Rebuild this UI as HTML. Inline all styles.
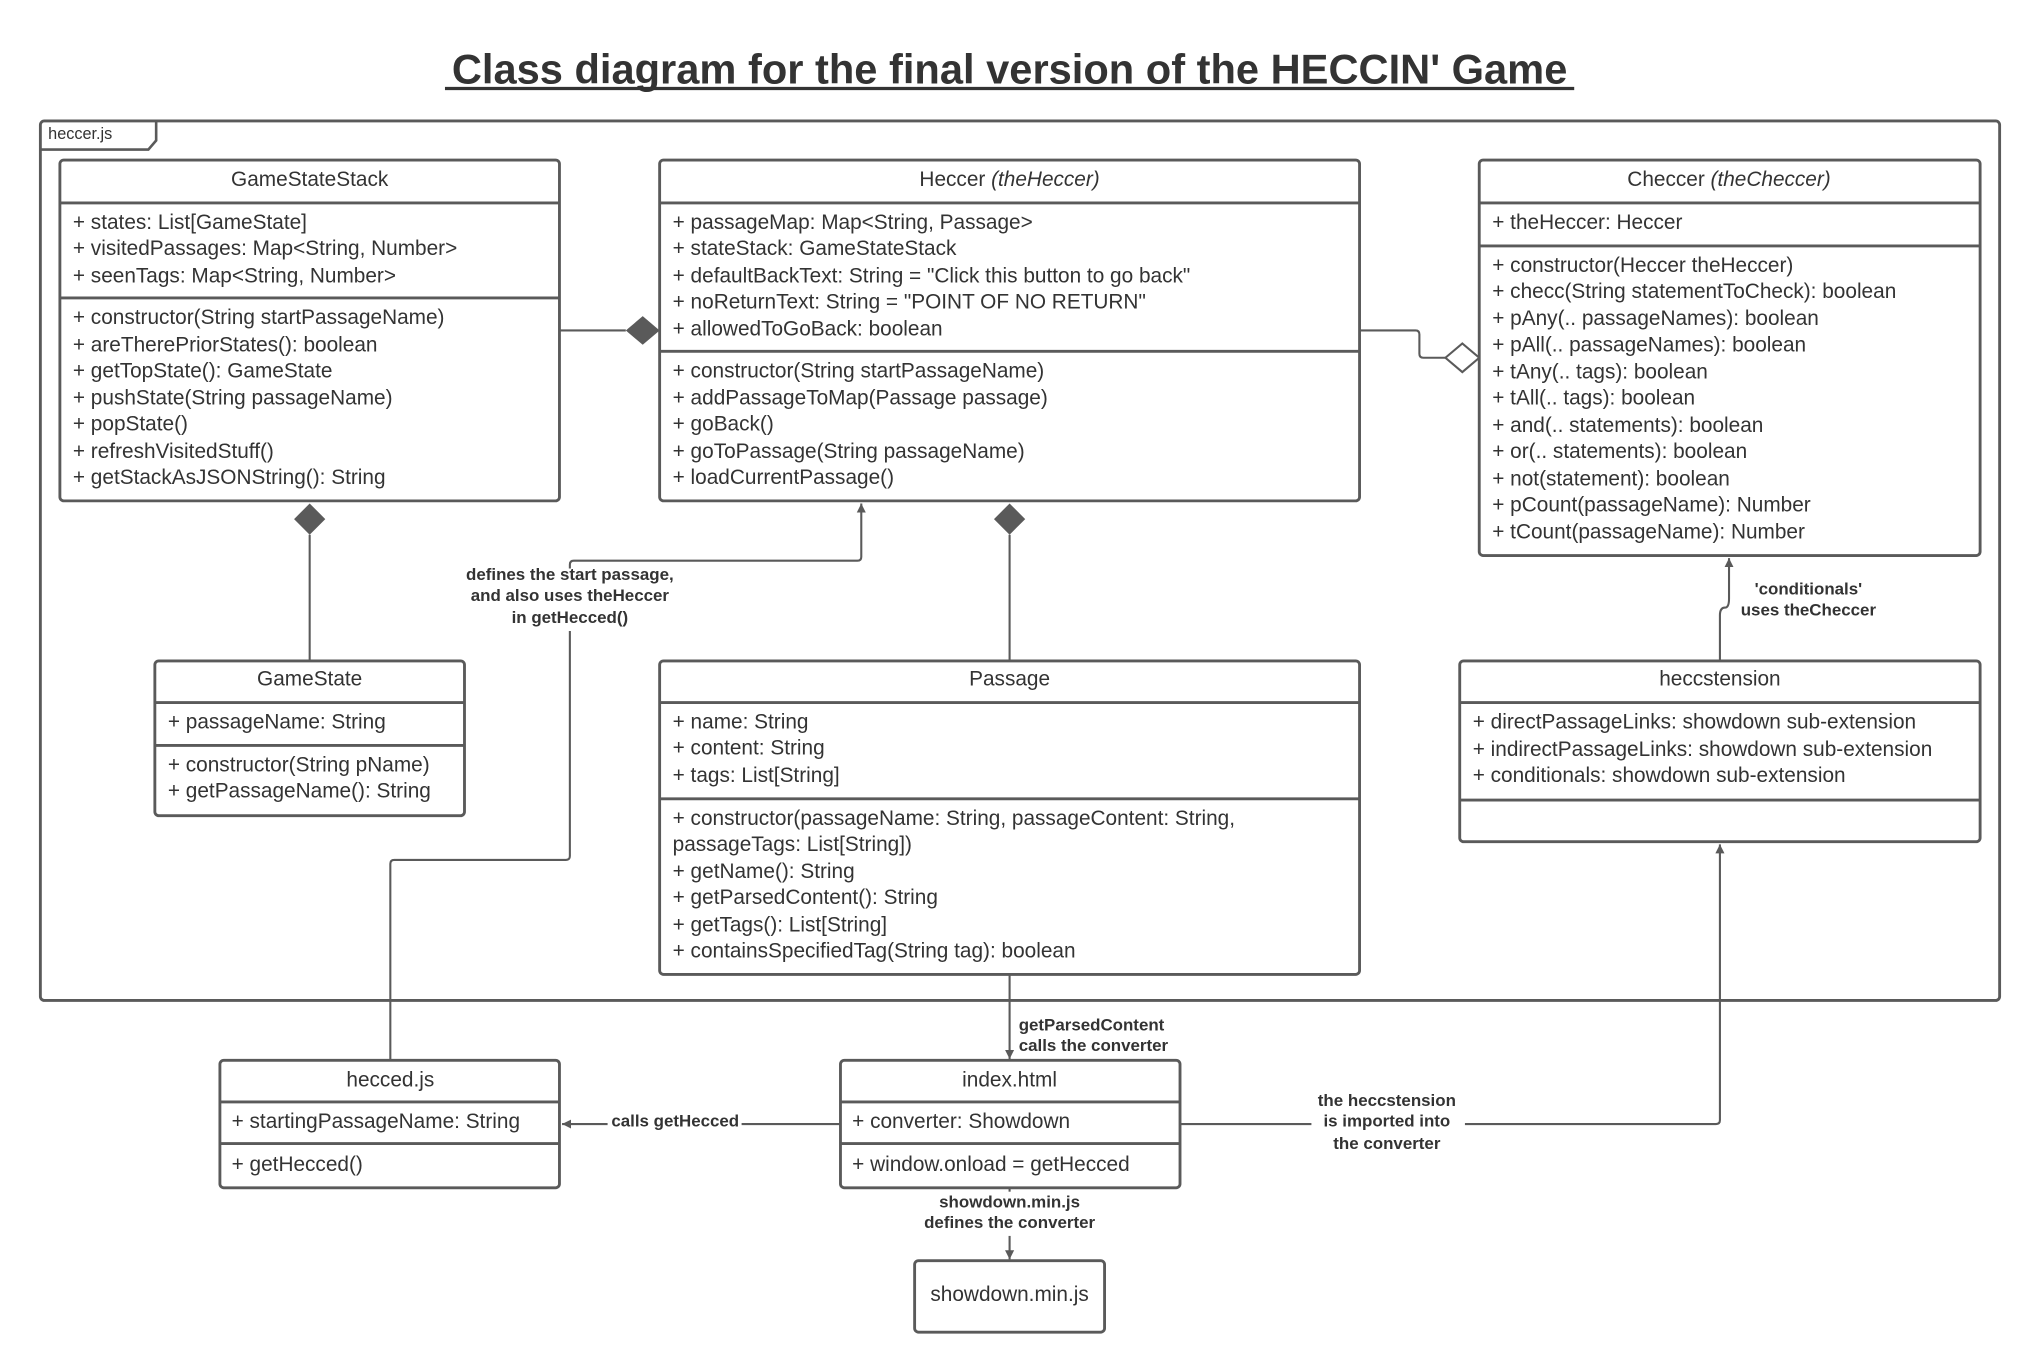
<!DOCTYPE html>
<html><head><meta charset="utf-8"><style>
html,body{margin:0;padding:0;background:#fff;}
svg{display:block;}
text{font-family:"Liberation Sans",Arial,sans-serif;fill:#333;}
.t{font-size:16px;}
.b{font-size:13px;font-weight:bold;}
.box{fill:#fff;stroke:#5a5a5a;stroke-width:2.2;}
.dv{stroke:#5a5a5a;stroke-width:2.2;}
.ln{fill:none;stroke:#5a5a5a;stroke-width:1.6;}
</style></head><body>
<svg width="2040" height="1372" viewBox="0 0 1568 1054.6" xmlns="http://www.w3.org/2000/svg">
<defs><marker id="ar" viewBox="0 0 10 10" refX="10" refY="5" markerWidth="7" markerHeight="10" orient="auto" markerUnits="userSpaceOnUse"><path d="M0,0 L10,5 L0,10 z" fill="#5a5a5a"/></marker></defs>
<text x="776" y="64" text-anchor="middle" style="font-size:32px;font-weight:bold;">Class diagram for the final version of the HECCIN' Game</text>
<line x1="342" y1="68" x2="1210" y2="68" stroke="#333" stroke-width="2.5"/>

<rect x="31" y="93" width="1506" height="676" rx="3" fill="none" stroke="#5a5a5a" stroke-width="2.2"/>
<path d="M31,115 L114,115 L120,108 L120,93" fill="none" stroke="#5a5a5a" stroke-width="2"/>
<text x="37" y="107" style="font-size:12.5px">heccer.js</text>

<!-- connectors -->
<line class="ln" x1="430" y1="254" x2="481" y2="254"/>
<path d="M481,254 L494,243 L507,254 L494,265 z" fill="#5a5a5a"/>
<path d="M238,387 L250,399 L238,411 L226,399 z" fill="#5a5a5a"/>
<line class="ln" x1="238" y1="411" x2="238" y2="508"/>
<path d="M776,387 L788,399 L776,411 L764,399 z" fill="#5a5a5a"/>
<line class="ln" x1="776" y1="411" x2="776" y2="508"/>
<path class="ln" d="M1045,254 L1088,254 Q1091,254 1091,257 L1091,272 Q1091,275 1094,275 L1111,275"/>
<path d="M1111,275 L1124,264 L1137,275 L1124,286 z" fill="#fff" stroke="#5a5a5a" stroke-width="1.6"/>
<path class="ln" d="M300,815 L300,664 Q300,661 303,661 L435,661 Q438,661 438,658 L438,485" />
<path class="ln" d="M438,437 L438,434 Q438,431 441,431 L659,431 Q662,431 662,428 L662,387" marker-end="url(#ar)"/>
<text class="b" x="438" y="446" text-anchor="middle">defines the start passage,</text>
<text class="b" x="438" y="462" text-anchor="middle">and also uses theHeccer</text>
<text class="b" x="438" y="479" text-anchor="middle">in getHecced()</text>
<path class="ln" d="M1322,508 L1322,473 Q1322,467 1326,467 Q1329,467 1329,460 L1329,429" marker-end="url(#ar)"/>
<text class="b" x="1390" y="457" text-anchor="middle">'conditionals'</text>
<text class="b" x="1390" y="473" text-anchor="middle">uses theCheccer</text>
<line class="ln" x1="776" y1="749" x2="776" y2="814" marker-end="url(#ar)"/>
<text class="b" x="783" y="792">getParsedContent</text>
<text class="b" x="783" y="808">calls the converter</text>
<line class="ln" x1="646" y1="864" x2="432" y2="864" marker-end="url(#ar)"/>
<rect x="467" y="854" width="103" height="15" fill="#fff"/>
<text class="b" x="519" y="866" text-anchor="middle">calls getHecced</text>
<path class="ln" d="M907,864 L1319,864 Q1322,864 1322,861 L1322,649" marker-end="url(#ar)"/>
<rect x="1008" y="838" width="118" height="48" fill="#fff"/>
<text class="b" x="1066" y="850" text-anchor="middle">the heccstension</text>
<text class="b" x="1066" y="866" text-anchor="middle">is imported into</text>
<text class="b" x="1066" y="883" text-anchor="middle">the converter</text>
<line class="ln" x1="776" y1="913" x2="776" y2="968" marker-end="url(#ar)"/>
<rect x="704" y="916" width="144" height="34" fill="#fff"/>
<text class="b" x="776" y="928" text-anchor="middle">showdown.min.js</text>
<text class="b" x="776" y="944" text-anchor="middle">defines the converter</text>

<!-- GameStateStack -->
<rect class="box" x="46" y="123" width="384" height="262" rx="3"/>
<line class="dv" x1="46" y1="156" x2="430" y2="156"/><line class="dv" x1="46" y1="229" x2="430" y2="229"/>
<text class="t" x="238" y="143" text-anchor="middle">GameStateStack</text>
<text class="t" x="56" y="176">+ states: List[GameState]</text>
<text class="t" x="56" y="196">+ visitedPassages: Map&lt;String, Number&gt;</text>
<text class="t" x="56" y="217">+ seenTags: Map&lt;String, Number&gt;</text>
<text class="t" x="56" y="249">+ constructor(String startPassageName)</text>
<text class="t" x="56" y="270">+ areTherePriorStates(): boolean</text>
<text class="t" x="56" y="290">+ getTopState(): GameState</text>
<text class="t" x="56" y="311">+ pushState(String passageName)</text>
<text class="t" x="56" y="331">+ popState()</text>
<text class="t" x="56" y="352">+ refreshVisitedStuff()</text>
<text class="t" x="56" y="372">+ getStackAsJSONString(): String</text>

<!-- Heccer -->
<rect class="box" x="507" y="123" width="538" height="262" rx="3"/>
<line class="dv" x1="507" y1="156" x2="1045" y2="156"/><line class="dv" x1="507" y1="270" x2="1045" y2="270"/>
<text class="t" x="776" y="143" text-anchor="middle">Heccer <tspan font-style="italic">(theHeccer)</tspan></text>
<text class="t" x="517" y="176">+ passageMap: Map&lt;String, Passage&gt;</text>
<text class="t" x="517" y="196">+ stateStack: GameStateStack</text>
<text class="t" x="517" y="217">+ defaultBackText: String = "Click this button to go back"</text>
<text class="t" x="517" y="237">+ noReturnText: String = "POINT OF NO RETURN"</text>
<text class="t" x="517" y="258">+ allowedToGoBack: boolean</text>
<text class="t" x="517" y="290">+ constructor(String startPassageName)</text>
<text class="t" x="517" y="311">+ addPassageToMap(Passage passage)</text>
<text class="t" x="517" y="331">+ goBack()</text>
<text class="t" x="517" y="352">+ goToPassage(String passageName)</text>
<text class="t" x="517" y="372">+ loadCurrentPassage()</text>

<!-- Checcer -->
<rect class="box" x="1137" y="123" width="385" height="304" rx="3"/>
<line class="dv" x1="1137" y1="156" x2="1522" y2="156"/><line class="dv" x1="1137" y1="189" x2="1522" y2="189"/>
<text class="t" x="1329" y="143" text-anchor="middle">Checcer <tspan font-style="italic">(theCheccer)</tspan></text>
<text class="t" x="1147" y="176">+ theHeccer: Heccer</text>
<text class="t" x="1147" y="209">+ constructor(Heccer theHeccer)</text>
<text class="t" x="1147" y="229">+ checc(String statementToCheck): boolean</text>
<text class="t" x="1147" y="250">+ pAny(.. passageNames): boolean</text>
<text class="t" x="1147" y="270">+ pAll(.. passageNames): boolean</text>
<text class="t" x="1147" y="291">+ tAny(.. tags): boolean</text>
<text class="t" x="1147" y="311">+ tAll(.. tags): boolean</text>
<text class="t" x="1147" y="332">+ and(.. statements): boolean</text>
<text class="t" x="1147" y="352">+ or(.. statements): boolean</text>
<text class="t" x="1147" y="373">+ not(statement): boolean</text>
<text class="t" x="1147" y="393">+ pCount(passageName): Number</text>
<text class="t" x="1147" y="414">+ tCount(passageName): Number</text>

<!-- GameState -->
<rect class="box" x="119" y="508" width="238" height="119" rx="3"/>
<line class="dv" x1="119" y1="540" x2="357" y2="540"/><line class="dv" x1="119" y1="573" x2="357" y2="573"/>
<text class="t" x="238" y="527" text-anchor="middle">GameState</text>
<text class="t" x="129" y="560">+ passageName: String</text>
<text class="t" x="129" y="593">+ constructor(String pName)</text>
<text class="t" x="129" y="613">+ getPassageName(): String</text>

<!-- Passage -->
<rect class="box" x="507" y="508" width="538" height="241" rx="3"/>
<line class="dv" x1="507" y1="540" x2="1045" y2="540"/><line class="dv" x1="507" y1="614" x2="1045" y2="614"/>
<text class="t" x="776" y="527" text-anchor="middle">Passage</text>
<text class="t" x="517" y="560">+ name: String</text>
<text class="t" x="517" y="580">+ content: String</text>
<text class="t" x="517" y="601">+ tags: List[String]</text>
<text class="t" x="517" y="634">+ constructor(passageName: String, passageContent: String,</text>
<text class="t" x="517" y="654">passageTags: List[String])</text>
<text class="t" x="517" y="675">+ getName(): String</text>
<text class="t" x="517" y="695">+ getParsedContent(): String</text>
<text class="t" x="517" y="716">+ getTags(): List[String]</text>
<text class="t" x="517" y="736">+ containsSpecifiedTag(String tag): boolean</text>

<!-- heccstension -->
<rect class="box" x="1122" y="508" width="400" height="139" rx="3"/>
<line class="dv" x1="1122" y1="540" x2="1522" y2="540"/><line class="dv" x1="1122" y1="615" x2="1522" y2="615"/>
<text class="t" x="1322" y="527" text-anchor="middle">heccstension</text>
<text class="t" x="1132" y="560">+ directPassageLinks: showdown sub-extension</text>
<text class="t" x="1132" y="581">+ indirectPassageLinks: showdown sub-extension</text>
<text class="t" x="1132" y="601">+ conditionals: showdown sub-extension</text>

<!-- hecced.js -->
<rect class="box" x="169" y="815" width="261" height="98" rx="3"/>
<line class="dv" x1="169" y1="847" x2="430" y2="847"/><line class="dv" x1="169" y1="879" x2="430" y2="879"/>
<text class="t" x="300" y="835" text-anchor="middle">hecced.js</text>
<text class="t" x="178" y="867">+ startingPassageName: String</text>
<text class="t" x="178" y="900">+ getHecced()</text>

<!-- index.html -->
<rect class="box" x="646" y="815" width="261" height="98" rx="3"/>
<line class="dv" x1="646" y1="847" x2="907" y2="847"/><line class="dv" x1="646" y1="879" x2="907" y2="879"/>
<text class="t" x="776" y="835" text-anchor="middle">index.html</text>
<text class="t" x="655" y="867">+ converter: Showdown</text>
<text class="t" x="655" y="900">+ window.onload = getHecced</text>

<!-- showdown -->
<rect class="box" x="703" y="969" width="146" height="55" rx="3"/>
<text class="t" x="776" y="1000" text-anchor="middle">showdown.min.js</text>
</svg>
</body></html>
